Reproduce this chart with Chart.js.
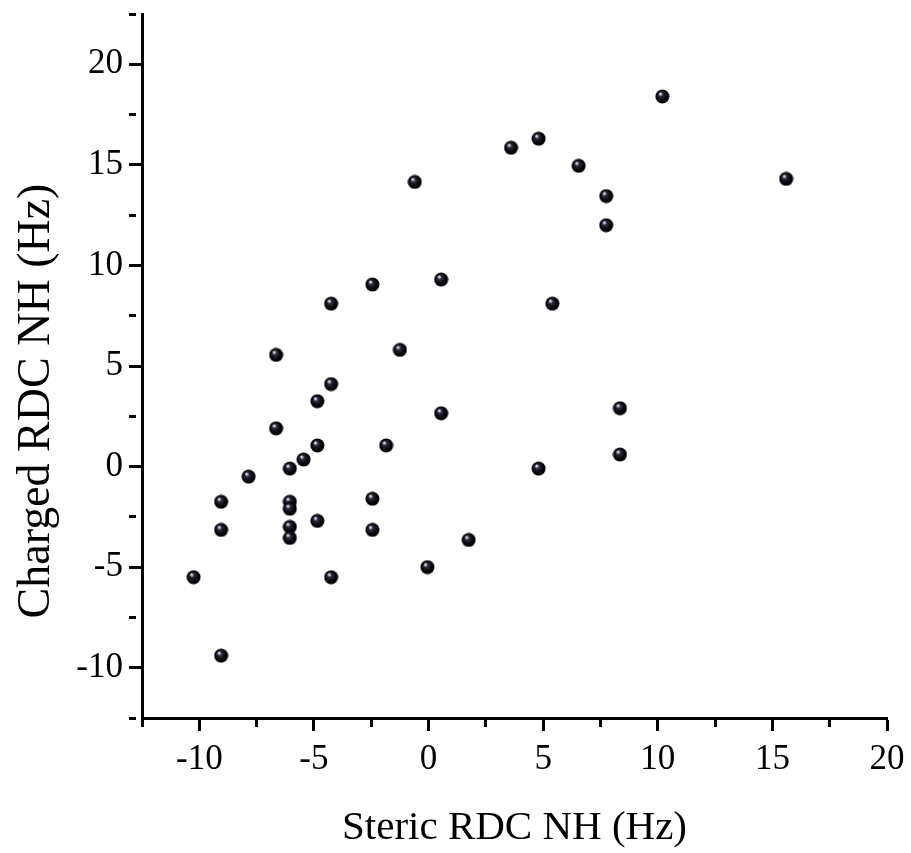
<!DOCTYPE html>
<html>
<head>
<meta charset="utf-8">
<script src="https://cdn.jsdelivr.net/npm/chart.js@4.4.1/dist/chart.umd.min.js"></script>
<style>
	html, body { margin: 0; padding: 0; background: #fff; }
	canvas { display: block; }
</style>
</head>
<body>
<canvas id="myChart" width="911" height="853"></canvas>
<script>
// RDC NH (Hz), steric vs charged
const stericRdc = [
	15.6, 10.2, 4.8, 3.6, 6.55, 7.75, 7.75, -0.6, 0.55, 5.4,
	-2.45, -4.25, -1.25, -6.65, -4.25, -4.85, -6.65, 0.55, 8.35, 8.35,
	-4.85, -1.85, -5.45, -6.05, 4.8, -7.85, -9.05, -6.05, -6.05, -2.45,
	-4.85, -9.05, -6.05, -6.05, -2.45, 1.75, -0.05, -4.25, -10.25, -9.05,
];
const chargedRdc = [
	14.3, 18.4, 16.3, 15.85, 14.95, 13.45, 12.0, 14.15, 9.3, 8.1,
	9.05, 8.1, 5.8, 5.55, 4.1, 3.25, 1.9, 2.65, 2.9, 0.6,
	1.05, 1.05, 0.35, -0.1, -0.1, -0.5, -1.75, -1.75, -2.1, -1.6,
	-2.7, -3.15, -3.0, -3.55, -3.15, -3.65, -5.0, -5.5, -5.5, -9.4,
];
const xRange = [-12.5, 20];
const yRange = [-12.5, 22.5];
const xTitle = 'Steric RDC NH (Hz)';
const yTitle = 'Charged RDC NH (Hz)';

// bola negra con brillo
function makeBall(size) {
	const c = document.createElement('canvas');
	c.width = size;
	c.height = size;
	const g = c.getContext('2d');
	const r = size / 2;
	const grad = g.createRadialGradient(r * 0.7, r * 0.6, 0, r, r, r);
	grad.addColorStop(0, '#ffffff');
	grad.addColorStop(0.12, '#c0c0d0');
	grad.addColorStop(0.3, '#2a2a3a');
	grad.addColorStop(0.7, '#050508');
	grad.addColorStop(1, '#000000');
	g.fillStyle = grad;
	g.beginPath();
	g.arc(r, r, r - 0.5, 0, Math.PI * 2);
	g.fill();
	return c;
}
const ball = makeBall(15);

const isMajor = (v) => Math.abs(v % 5) < 1e-6;

function axis(range, tickPad) {
	return {
		type: 'linear',
		min: range[0],
		max: range[1],
		border: { display: true, color: '#000', width: 3 },
		grid: {
			drawOnChartArea: false,
			drawTicks: true,
			tickLength: 13,
			tickWidth: 3,
			tickColor: '#000',
			tickBorderDash: (ctx) => (ctx.tick && isMajor(ctx.tick.value) ? [] : [7, 100]),
		},
		ticks: {
			stepSize: 2.5,
			padding: tickPad,
			color: '#000',
			font: { family: 'Liberation Serif', size: 35 },
			callback: (v) => (isMajor(v) ? String(v) : ''),
		},
	};
}

const xAxis = axis(xRange, 8);
xAxis.title = {
	display: true,
	text: xTitle,
	color: '#000',
	padding: { top: 0, bottom: 0 },
	font: { family: 'Liberation Serif', size: 41 },
};
xAxis.afterFit = (s) => {
	s.height = 135;
	s.paddingLeft = s.paddingRight = s.paddingTop = s.paddingBottom = 0;
};

const yAxis = axis(yRange, 6);
yAxis.afterFit = (s) => {
	s.width = 142;
	s.paddingLeft = s.paddingRight = s.paddingTop = s.paddingBottom = 0;
};

// titulo del eje Y, un poco mas abajo que el centro del area
const yTitlePlugin = {
	id: 'yTitle',
	afterDraw(chart) {
		const c = chart.ctx;
		c.save();
		c.translate(37, 401);
		c.rotate(-Math.PI / 2);
		c.font = '46px "Liberation Serif"';
		c.fillStyle = '#000';
		c.textAlign = 'center';
		c.textBaseline = 'middle';
		c.fillText(yTitle, 0, 0);
		c.restore();
	},
};

const ctx = document.getElementById('myChart').getContext('2d');
const myChart = new Chart(ctx, {
	type: 'scatter',
	data: {
		datasets: [
			{
				data: stericRdc.map((x, i) => ({ x, y: chargedRdc[i] })),
				pointStyle: ball,
				pointRadius: 7,
				pointHoverRadius: 7,
			},
		],
	},
	options: {
		responsive: false,
		animation: false,
		layout: { padding: { left: 0, top: 14, right: 24, bottom: 0 } },
		scales: { x: xAxis, y: yAxis },
		plugins: {
			legend: { display: false },
			tooltip: { enabled: false },
		},
	},
	plugins: [yTitlePlugin],
});
</script>
</body>
</html>
